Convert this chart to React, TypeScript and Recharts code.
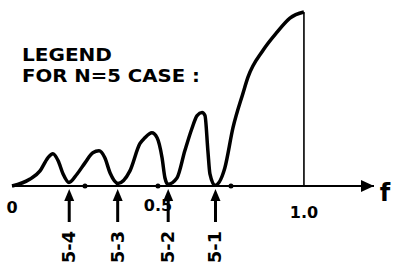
import { LineChart, Line, XAxis, YAxis, ReferenceLine, ReferenceDot } from 'recharts'

// frequency positions (f) and sketched amplitude
const freq = [0, 0.062, 0.096, 0.123, 0.14, 0.158, 0.175, 0.195, 0.223, 0.25, 0.277, 0.298, 0.318, 0.336, 0.363, 0.404, 0.438, 0.455, 0.479, 0.497, 0.514, 0.524, 0.534, 0.565, 0.592, 0.616, 0.634, 0.651, 0.661, 0.671, 0.678, 0.695, 0.729, 0.757, 0.791, 0.808, 0.86, 0.908, 0.952, 1.0]
const amp = [0, 0.04, 0.087, 0.162, 0.185, 0.145, 0.069, 0.02, 0.069, 0.133, 0.191, 0.202, 0.162, 0.075, 0.015, 0.087, 0.243, 0.277, 0.306, 0.277, 0.162, 0.046, 0.01, 0.046, 0.202, 0.329, 0.405, 0.422, 0.405, 0.202, 0.069, 0.004, 0.104, 0.335, 0.532, 0.624, 0.78, 0.884, 0.965, 1.0]

const tickValues = [0, 0.5, 1]
const tickLabels = ['0', '0.5', '1.0']
const minorTicks = [0.25, 0.5, 0.75]

const arrowF = [0.196, 0.362, 0.535, 0.697]
const arrowLabels = ['5-4', '5-3', '5-2', '5-1']

const data = freq.map((f, i) => ({ f, a: amp[i] }))

const FONT = '"DejaVu Sans", sans-serif'

function Tick(props: any) {
  const { x, y, payload } = props
  const i = tickValues.indexOf(payload.value)
  const dy = [21, 19, 26][i]
  return (
    <text x={x} y={y + dy} textAnchor="middle" dominantBaseline="central"
      fontFamily={FONT} fontWeight="bold" fontSize={16} fill="#000">
      {tickLabels[i]}
    </text>
  )
}

function UpArrow(label: string) {
  return (props: any) => {
    const { cx, cy } = props
    return (
      <g>
        <line x1={cx} y1={cy + 10} x2={cx} y2={cy + 36} stroke="#000" strokeWidth={3} />
        <polygon points={`${cx},${cy + 3} ${cx - 5},${cy + 15} ${cx + 5},${cy + 15}`} fill="#000" />
        <text x={cx} y={cy + 61} transform={`rotate(-90 ${cx} ${cy + 61})`}
          textAnchor="middle" dominantBaseline="central" fontFamily={FONT}
          fontWeight="bold" fontSize={17} fill="#000" textLength={32} lengthAdjust="spacingAndGlyphs">
          {label}
        </text>
      </g>
    )
  }
}

function AxisHead(props: any) {
  const { cx, cy } = props
  return (
    <g>
      <polygon points={`${cx},${cy} ${cx - 13},${cy - 6} ${cx - 13},${cy + 6}`} fill="#000" />
      <text x={cx + 11} y={cy + 7} textAnchor="middle" dominantBaseline="central"
        fontFamily={FONT} fontWeight="bold" fontSize={24} fill="#000">f</text>
    </g>
  )
}

export default function App() {
  return (
    <div style={{ position: 'absolute', left: 0, top: 0, background: '#fff' }}>
      <LineChart width={394} height={273} data={data}
        margin={{ top: 12, right: 20, bottom: 0, left: 12 }}>
        <XAxis dataKey="f" type="number" domain={[0, 1.24]} ticks={tickValues}
          tick={<Tick />} tickLine={false} tickSize={0} tickMargin={0} height={87}
          axisLine={{ stroke: '#000', strokeWidth: 2 }} />
        <YAxis hide domain={[0, 1]} />
        <ReferenceLine x={1} stroke="#000" strokeWidth={1.6} />
        {minorTicks.map((t) => (
          <ReferenceDot key={t} x={t} y={0} r={2.5} fill="#000" stroke="none" />
        ))}
        <ReferenceDot x={1.24} y={0} r={0} ifOverflow="visible" shape={AxisHead} />
        {arrowF.map((f, i) => (
          <ReferenceDot key={arrowLabels[i]} x={f} y={0} r={0} ifOverflow="visible"
            shape={UpArrow(arrowLabels[i])} />
        ))}
        <Line type="monotone" dataKey="a" stroke="#000" strokeWidth={3.5}
          dot={false} isAnimationActive={false} />
        <text x={22} y={55} fontFamily={FONT} fontWeight="bold" fontSize={17}
          textLength={90} lengthAdjust="spacingAndGlyphs" dominantBaseline="central">LEGEND</text>
        <text x={22} y={76} fontFamily={FONT} fontWeight="bold" fontSize={17}
          textLength={178} lengthAdjust="spacingAndGlyphs" dominantBaseline="central">FOR N=5 CASE :</text>
      </LineChart>
    </div>
  )
}
